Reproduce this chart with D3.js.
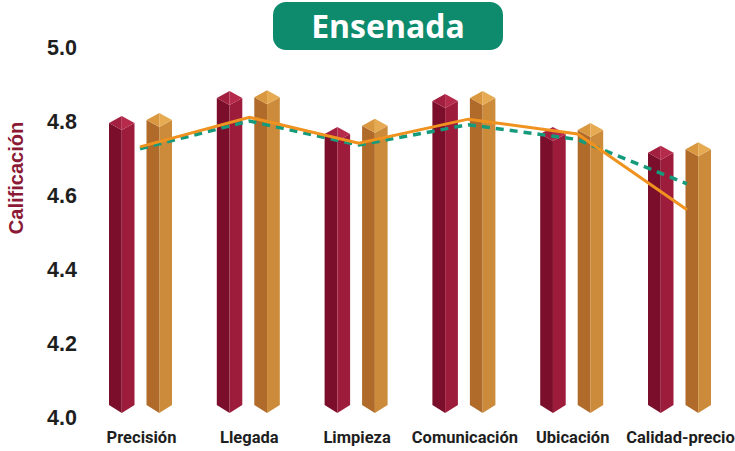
<!DOCTYPE html>
<html>
<head>
<meta charset="utf-8">
<script src="https://cdn.jsdelivr.net/npm/d3@7"></script>
<style>
  body { margin: 0; background: #fff; }
  svg { display: block; }
</style>
</head>
<body>
<div id="chart"></div>
<script>
// data
const categories = ["Precisión", "Llegada", "Limpieza", "Comunicación", "Ubicación", "Calidad-precio"]
const seriesRed = [4.776, 4.843, 4.746, 4.835, 4.746, 4.695]
const seriesGold = [4.784, 4.845, 4.768, 4.843, 4.757, 4.705]
const lineOrange = [4.73, 4.81, 4.74, 4.805, 4.765, 4.56]
const lineGreen = [4.725, 4.80, 4.735, 4.79, 4.75, 4.63]
const yTicks = [4.0, 4.2, 4.4, 4.6, 4.8, 5.0]
const title = "Ensenada"
const yTitle = "Calificación"

const W = 735, H = 451

const svg = d3.select("#chart").append("svg").attr("width", W).attr("height", H)

const x = d3.scaleBand().domain(categories).range([86.6, 733.4])
const GROUP_W = 63
const xs = d3.scaleBand().domain(["red", "gold"]).range([0, GROUP_W]).paddingInner(0.32)
// the trend lines are spread a little wider than the bar groups
const xl = d3.scalePoint().domain(categories).range([140, 687])
const y = d3.scaleLinear().domain([4, 5]).range([417, 47])
const cx = cat => x(cat) + x.bandwidth() / 2

// title badge
svg.append("rect").attr("x", 273).attr("y", 2).attr("width", 230).attr("height", 48)
    .attr("rx", 13).attr("fill", "#0e8b6c")
svg.append("text").attr("x", 388).attr("y", 38).attr("text-anchor", "middle")
    .attr("font-family", "'Open Sans', sans-serif").attr("font-weight", 700)
    .attr("font-size", 32).attr("fill", "#fff").text(title)

// y ticks
svg.append("g").selectAll("text").data(yTicks).enter().append("text")
    .attr("x", 77).attr("y", d => y(d) + 7.5).attr("text-anchor", "end")
    .attr("font-family", "'Liberation Sans', Arial, sans-serif").attr("font-weight", 700)
    .attr("font-size", 21.5).attr("fill", "#1e1e1e")
    .text(d => d.toFixed(1))

svg.append("text").attr("transform", "translate(23,178) rotate(-90)")
    .attr("text-anchor", "middle")
    .attr("font-family", "'Liberation Sans', Arial, sans-serif").attr("font-weight", 700)
    .attr("font-size", 20).attr("fill", "#8c1a36").text(yTitle)

// x labels
svg.append("g").selectAll("text").data(categories).enter().append("text")
    .attr("x", d => cx(d) + 1).attr("y", 443).attr("text-anchor", "middle")
    .attr("font-family", "Roboto, sans-serif").attr("font-weight", 700)
    .attr("font-size", 16.5).attr("fill", "#1e1e1e")
    .text(d => d)

const COLORS = {
    red: { left: "#7b0f2b", right: "#9d1b3b", capL: "#a31f3f", capR: "#b62a4b" },
    gold: { left: "#b06a2a", right: "#cc8b3a", capL: "#d9983f", capR: "#e6ab52" }
}

function prism(g, x0, w, v, c) {
    const x1 = x0 + w, xm = x0 + w / 2
    const yf = y(v), yc = yf - 7, ya = yf - 14
    const bf = y(4) - 4, bs = bf - 8
    const poly = pts => "M" + pts.map(p => p.join(",")).join("L") + "Z"
    g.append("path").attr("d", poly([[x0, yc], [xm, yf], [xm, bf], [x0, bs]])).attr("fill", c.left)
    g.append("path").attr("d", poly([[xm, yf], [x1, yc], [x1, bs], [xm, bf]])).attr("fill", c.right)
    g.append("path").attr("d", poly([[x0, yc], [xm, ya], [xm, yf]])).attr("fill", c.capL)
    g.append("path").attr("d", poly([[xm, ya], [x1, yc], [xm, yf]])).attr("fill", c.capR)
}

const bars = svg.append("g")
categories.forEach((cat, i) => {
    const g0 = cx(cat) - GROUP_W / 2
    const g = bars.append("g")
    prism(g, g0 + xs("red"), xs.bandwidth(), seriesRed[i], COLORS.red)
    prism(g, g0 + xs("gold"), xs.bandwidth(), seriesGold[i], COLORS.gold)
})

const line = d3.line().x((d, i) => xl(categories[i])).y(d => y(d))

svg.append("path").datum(lineGreen).attr("d", line).attr("fill", "none")
    .attr("stroke", "#159a7b").attr("stroke-width", 3.5).attr("stroke-dasharray", "8,6")
svg.append("path").datum(lineOrange).attr("d", line).attr("fill", "none")
    .attr("stroke", "#f0921f").attr("stroke-width", 3)
</script>
</body>
</html>
